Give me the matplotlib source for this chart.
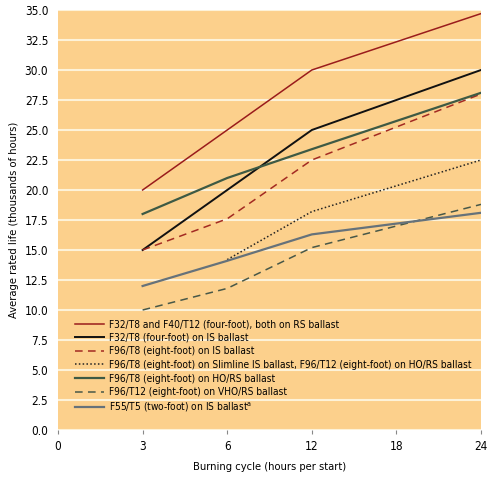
import numpy as np
import matplotlib
matplotlib.use("Agg")
import matplotlib.pyplot as plt

plt.rcParams['font.family'] = ['Liberation Sans Narrow', 'DejaVu Sans']
plt.rcParams['font.stretch'] = 'condensed'

tick_hours = [0, 3, 6, 12, 18, 24]
hours = [3, 6, 12, 24]

labels = [
    "F32/T8 and F40/T12 (four-foot), both on RS ballast",
    "F32/T8 (four-foot) on IS ballast",
    "F96/T8 (eight-foot) on IS ballast",
    "F96/T8 (eight-foot) on Slimline IS ballast, F96/T12 (eight-foot) on HO/RS ballast",
    "F96/T8 (eight-foot) on HO/RS ballast",
    "F96/T12 (eight-foot) on VHO/RS ballast",
    "F55/T5 (two-foot) on IS ballast$^{\\mathregular{a}}$",
]

rs_four_foot = [20.0, 25.0, 30.0, 34.7]
is_four_foot = [15.0, 20.0, 25.0, 30.0]
is_eight_foot = [15.0, 17.6, 22.5, 28.0]
slimline = [np.nan, 14.2, 18.2, 22.5]
ho_rs = [18.0, 21.0, 23.4, 28.1]
vho_rs = [10.0, 11.8, 15.2, 18.8]
t5_two_foot = [12.0, 14.1, 16.3, 18.1]

series = [rs_four_foot, is_four_foot, is_eight_foot, slimline, ho_rs, vho_rs, t5_two_foot]
colors = ["#9a1c1c", "#111111", "#a32a22", "#222222", "#3e5a44", "#485848", "#66727a"]
styles = ["-", "-", (0, (5, 3.5)), (0, (1, 1.5)), "-", (0, (5, 3.5)), "-"]
widths = [1.1, 1.4, 1.1, 1.1, 1.6, 1.1, 1.6]

# hours are placed on an evenly spaced category scale
pos = {h: i for i, h in enumerate(tick_hours)}
x = [pos[h] for h in hours]

fig = plt.figure(figsize=(4.98, 4.78), dpi=100)
ax = fig.add_axes([0.1165, 0.1004, 0.8494, 0.8787])
ax.set_facecolor("#fcd08c")

for vals, c, ls, lw, lab in zip(series, colors, styles, widths, labels):
    ax.plot(x, vals, color=c, linestyle=ls, linewidth=lw, label=lab, zorder=3)

ax.set_xlim(0, len(tick_hours) - 1)
ax.set_ylim(0, 35)
ax.set_xticks(range(len(tick_hours)))
ax.set_xticklabels([str(h) for h in tick_hours])
ax.set_yticks(np.arange(0, 35.1, 2.5))
ax.set_yticklabels([f"{v:.1f}" for v in np.arange(0, 35.1, 2.5)])
ax.yaxis.grid(True, color="#fdf2d8", linewidth=1.5, zorder=1)
ax.set_axisbelow(True)
for s in ax.spines.values():
    s.set_visible(False)
ax.tick_params(axis="y", length=0, pad=7, labelsize=8.5)
ax.tick_params(axis="x", length=3, color="#888888", pad=4, labelsize=8.5)

ax.set_xlabel("Burning cycle (hours per start)", fontsize=8, labelpad=7)
ax.set_ylabel("Average rated life (thousands of hours)", fontsize=8, labelpad=4)

ax.legend(loc="lower left", bbox_to_anchor=(0.04, 0.038), frameon=False,
          fontsize=7.3, handlelength=2.9, handletextpad=0.5, labelspacing=0.35,
          borderpad=0, borderaxespad=0)

fig.savefig("out.png", dpi=100)
